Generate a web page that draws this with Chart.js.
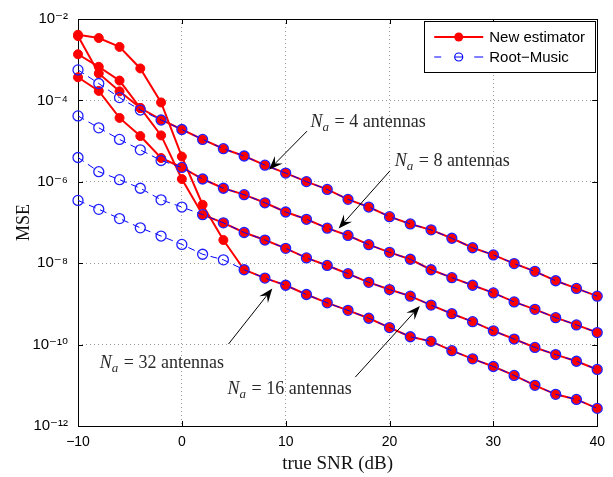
<!DOCTYPE html>
<html>
<head>
<meta charset="utf-8">
<script src="https://cdn.jsdelivr.net/npm/chart.js@4.4.1/dist/chart.umd.min.js"></script>
<style>
  html, body { margin: 0; padding: 0; background: #fff; }
</style>
</head>
<body>
<canvas id="grafico" width="613" height="477"></canvas>
<script>
// SNR (dB)
const snr = [-10, -8, -6, -4, -2, 0, 2, 4, 6, 8, 10, 12, 14, 16, 18, 20, 22, 24, 26, 28, 30, 32, 34, 36, 38, 40];

// Root-Music
const rootMusic4 = [5.6e-4, 2.6e-4, 1.17e-4, 5.8e-5, 3.3e-5, 1.93e-5, 1.1e-5, 6.5e-6, 4.3e-6, 2.56e-6, 1.64e-6, 1.01e-6, 6.5e-7, 3.7e-7, 2.4e-7, 1.39e-7, 9.2e-8, 6.6e-8, 4.1e-8, 2.4e-8, 1.6e-8, 9.8e-9, 6.3e-9, 3.7e-9, 2.4e-9, 1.55e-9];
const rootMusic8 = [4.15e-5, 2.12e-5, 1.1e-5, 6.1e-6, 3.34e-6, 2.25e-6, 1.17e-6, 6.95e-7, 4.83e-7, 3.05e-7, 1.81e-7, 1.2e-7, 7.26e-8, 4.8e-8, 2.85e-8, 1.85e-8, 1.25e-8, 6.9e-9, 4.41e-9, 2.87e-9, 1.86e-9, 1.12e-9, 7.35e-10, 4.59e-10, 3.05e-10, 1.98e-10];
const rootMusic16 = [3.95e-6, 1.77e-6, 1.13e-6, 6.95e-7, 3.61e-7, 2.4e-7, 1.56e-7, 9.8e-8, 5.68e-8, 3.71e-8, 2.32e-8, 1.35e-8, 8.8e-9, 5.52e-9, 3.39e-9, 2.25e-9, 1.55e-9, 9.35e-10, 5.74e-10, 3.66e-10, 2.18e-10, 1.37e-10, 8.5e-11, 5.68e-11, 3.9e-11, 2.45e-11];
const rootMusic32 = [3.49e-7, 2.11e-7, 1.25e-7, 7.4e-8, 4.65e-8, 2.9e-8, 1.66e-8, 1.21e-8, 6.9e-9, 4.31e-9, 2.87e-9, 1.7e-9, 1.06e-9, 6.95e-10, 4.44e-10, 2.62e-10, 1.56e-10, 1.2e-10, 7.1e-11, 4.47e-11, 2.9e-11, 1.75e-11, 1.0e-11, 6.0e-12, 4.49e-12, 2.71e-12];

// New estimator
const novo4 = [1.36e-3, 6.7e-4, 3.07e-4, 6.5e-5, 3.35e-5, 1.93e-5, 1.1e-5, 6.5e-6, 4.3e-6, 2.56e-6, 1.64e-6, 1.01e-6, 6.5e-7, 3.7e-7, 2.4e-7, 1.39e-7, 9.2e-8, 6.6e-8, 4.1e-8, 2.4e-8, 1.6e-8, 9.8e-9, 6.3e-9, 3.7e-9, 2.4e-9, 1.55e-9];
const novo8 = [3.7e-4, 1.71e-4, 3.71e-5, 1.33e-5, 3.84e-6, 2.25e-6, 1.17e-6, 6.95e-7, 4.83e-7, 3.05e-7, 1.81e-7, 1.2e-7, 7.26e-8, 4.8e-8, 2.85e-8, 1.85e-8, 1.25e-8, 6.9e-9, 4.41e-9, 2.87e-9, 1.86e-9, 1.12e-9, 7.35e-10, 4.59e-10, 3.05e-10, 1.98e-10];
const novo16 = [3.8e-3, 4.6e-4, 1.67e-4, 6.5e-5, 1.38e-5, 1.17e-6, 1.56e-7, 9.8e-8, 5.68e-8, 3.71e-8, 2.32e-8, 1.35e-8, 8.8e-9, 5.52e-9, 3.39e-9, 2.25e-9, 1.55e-9, 9.35e-10, 5.74e-10, 3.66e-10, 2.18e-10, 1.37e-10, 8.5e-11, 5.68e-11, 3.9e-11, 2.45e-11];
const novo32 = [4.1e-3, 3.41e-3, 2.06e-3, 6.1e-4, 8.9e-5, 4.17e-6, 2.73e-7, 3.71e-8, 6.9e-9, 4.31e-9, 2.87e-9, 1.7e-9, 1.06e-9, 6.95e-10, 4.44e-10, 2.62e-10, 1.56e-10, 1.2e-10, 7.1e-11, 4.47e-11, 2.9e-11, 1.75e-11, 1.0e-11, 6.0e-12, 4.49e-12, 2.71e-12];

// eixos
const ticksX = [-10, 0, 10, 20, 30, 40];
const ticksY = [1e-12, 1e-10, 1e-8, 1e-6, 1e-4, 1e-2];

// anotações: texto (x, y) e seta (de -> ponta), em unidades do gráfico
const anotacoes = [
  { n: '4',  tx: 12.4, ty: 2.2e-5,  de: [12.06, 1.76e-5], ponta: [8.39, 1.98e-6] },
  { n: '8',  tx: 20.5, ty: 2.5e-6,  de: [20.05, 1.87e-6], ponta: [15.1, 7.1e-8] },
  { n: '32', tx: -7.9, ty: 2.6e-11, de: [4.49, 1.03e-10], ponta: [8.71, 2.38e-9] },
  { n: '16', tx: 4.4,  ty: 6.2e-12, de: [16.7, 1.59e-11], ponta: [22.92, 8.85e-10] }
];

const SUP = { '-': '⁻', '0': '⁰', '1': '¹', '2': '²', '3': '³', '4': '⁴', '5': '⁵', '6': '⁶', '7': '⁷', '8': '⁸', '9': '⁹' };
function potencia(v) {
  const e = String(Math.round(Math.log10(v)));
  return '10' + e.split('').map(c => SUP[c]).join('');
}

function pontos(valores) {
  return snr.map((s, i) => ({ x: s, y: valores[i] }));
}

function serieNova(valores) {
  return {
    label: 'New estimator',
    data: pontos(valores),
    borderColor: '#ff0000',
    backgroundColor: '#ff0000',
    borderWidth: 2,
    pointRadius: 4.5,
    pointBackgroundColor: '#ff0000',
    pointBorderColor: '#ff0000',
    pointBorderWidth: 1,
    order: 2,
    clip: 8
  };
}

function serieRoot(valores) {
  return {
    label: 'Root−Music',
    data: pontos(valores),
    borderColor: '#0000ff',
    borderWidth: 1,
    borderDash: [7, 5],
    pointRadius: 5,
    pointBackgroundColor: 'rgba(0,0,0,0)',
    pointBorderColor: '#2020ff',
    pointBorderWidth: 1.3,
    order: 1,
    clip: 8
  };
}

const FONTE_SANS = '"Liberation Sans", "DejaVu Sans", sans-serif';
const FONTE_SERIF = '"Liberation Serif", "DejaVu Serif", serif';

// caixa preta e marcas internas (estilo MATLAB)
const moldura = {
  id: 'moldura',
  beforeDatasetsDraw(chart) {
    const { ctx, chartArea: a, scales } = chart;
    ctx.save();
    ctx.strokeStyle = '#000';
    ctx.lineWidth = 1;
    ctx.beginPath();
    ticksX.forEach(v => {
      const px = Math.round(scales.x.getPixelForValue(v)) + 0.5;
      ctx.moveTo(px, a.bottom); ctx.lineTo(px, a.bottom - 5);
      ctx.moveTo(px, a.top); ctx.lineTo(px, a.top + 5);
    });
    ticksY.forEach(v => {
      const py = Math.round(scales.y.getPixelForValue(v)) + 0.5;
      ctx.moveTo(a.left, py); ctx.lineTo(a.left + 5, py);
      ctx.moveTo(a.right, py); ctx.lineTo(a.right - 5, py);
    });
    ctx.stroke();
    ctx.strokeRect(Math.round(a.left) + 0.5, Math.round(a.top) + 0.5, Math.round(a.right - a.left), Math.round(a.bottom - a.top));
    ctx.restore();
  }
};

function desenhaSeta(ctx, x1, y1, x2, y2) {
  const ang = Math.atan2(y2 - y1, x2 - x1);
  const L = 14, W = 5.5;
  ctx.strokeStyle = '#000';
  ctx.lineWidth = 1;
  ctx.beginPath();
  ctx.moveTo(x1, y1);
  ctx.lineTo(x2 - Math.cos(ang) * L * 0.6, y2 - Math.sin(ang) * L * 0.6);
  ctx.stroke();
  ctx.save();
  ctx.translate(x2, y2);
  ctx.rotate(ang);
  ctx.beginPath();
  ctx.moveTo(0, 0);
  ctx.lineTo(-L, -W);
  ctx.lineTo(-L * 0.62, 0);
  ctx.lineTo(-L, W);
  ctx.closePath();
  ctx.fillStyle = '#000';
  ctx.fill();
  ctx.restore();
}

function desenhaRotulo(ctx, x, y, n) {
  ctx.fillStyle = '#2a2a2a';
  ctx.textAlign = 'left';
  ctx.textBaseline = 'alphabetic';
  ctx.font = 'italic 18px ' + FONTE_SERIF;
  ctx.fillText('N', x, y);
  let cx = x + ctx.measureText('N').width;
  ctx.font = 'italic 13px ' + FONTE_SERIF;
  ctx.fillText('a', cx, y + 4);
  cx += ctx.measureText('a').width;
  ctx.font = '18px ' + FONTE_SERIF;
  ctx.fillText(' = ' + n + ' antennas', cx + 1, y);
}

const rotulos = {
  id: 'rotulos',
  afterDatasetsDraw(chart) {
    const { ctx, scales: { x, y } } = chart;
    ctx.save();
    anotacoes.forEach(an => {
      desenhaRotulo(ctx, x.getPixelForValue(an.tx), y.getPixelForValue(an.ty), an.n);
      desenhaSeta(ctx,
        x.getPixelForValue(an.de[0]), y.getPixelForValue(an.de[1]),
        x.getPixelForValue(an.ponta[0]), y.getPixelForValue(an.ponta[1]));
    });
    ctx.restore();
  }
};

const legenda = {
  id: 'legenda',
  afterDraw(chart) {
    const { ctx, chartArea: a } = chart;
    const x0 = a.right - 173, y0 = a.top + 2, w = 171, h = 51;
    ctx.save();
    ctx.fillStyle = '#fff';
    ctx.fillRect(x0, y0, w, h);
    ctx.strokeStyle = '#000';
    ctx.lineWidth = 1;
    ctx.strokeRect(Math.round(x0) + 0.5, Math.round(y0) + 0.5, w, h);

    const lx = x0 + 10, lw = 49, yy1 = y0 + 16, yy2 = y0 + 36;
    // New estimator
    ctx.strokeStyle = '#ff0000';
    ctx.lineWidth = 2;
    ctx.beginPath(); ctx.moveTo(lx, yy1); ctx.lineTo(lx + lw, yy1); ctx.stroke();
    ctx.fillStyle = '#ff0000';
    ctx.beginPath(); ctx.arc(lx + lw / 2, yy1, 4.5, 0, Math.PI * 2); ctx.fill();
    // Root-Music
    ctx.strokeStyle = '#0000ff';
    ctx.lineWidth = 1.2;
    ctx.beginPath();
    ctx.moveTo(lx, yy2); ctx.lineTo(lx + 7, yy2);
    ctx.moveTo(lx + 21, yy2); ctx.lineTo(lx + 28, yy2);
    ctx.moveTo(lx + 40, yy2); ctx.lineTo(lx + lw, yy2);
    ctx.stroke();
    ctx.beginPath(); ctx.arc(lx + lw / 2, yy2, 4, 0, Math.PI * 2); ctx.stroke();

    ctx.fillStyle = '#000';
    ctx.font = '15px ' + FONTE_SANS;
    ctx.textAlign = 'left';
    ctx.textBaseline = 'middle';
    ctx.fillText('New estimator', lx + lw + 6, yy1 + 1);
    ctx.fillText('Root−Music', lx + lw + 6, yy2 + 1);
    ctx.restore();
  }
};

const ctx = document.getElementById('grafico').getContext('2d');
new Chart(ctx, {
  type: 'line',
  data: {
    datasets: [
      serieNova(novo4), serieNova(novo8), serieNova(novo16), serieNova(novo32),
      serieRoot(rootMusic4), serieRoot(rootMusic8), serieRoot(rootMusic16), serieRoot(rootMusic32)
    ]
  },
  options: {
    responsive: false,
    animation: false,
    devicePixelRatio: 1,
    layout: { padding: { top: 15, right: 13, left: 0, bottom: 0 } },
    elements: { line: { tension: 0 } },
    plugins: { legend: { display: false }, tooltip: { enabled: false } },
    scales: {
      x: {
        type: 'linear',
        min: -10,
        max: 40,
        afterBuildTicks: s => { s.ticks = ticksX.map(v => ({ value: v })); },
        afterFit: s => { s.height = 51; },
        ticks: {
          color: '#000',
          padding: 8,
          maxRotation: 0,
          font: { family: FONTE_SANS, size: 14 },
          callback: v => (v < 0 ? '−' + Math.abs(v) : String(v))
        },
        grid: { color: '#9a9a9a', lineWidth: 1, drawTicks: false },
        border: { display: false, dash: [1, 3] },
        title: {
          display: true,
          text: 'true SNR (dB)',
          color: '#111',
          font: { family: FONTE_SERIF, size: 19 },
          padding: { top: 0, bottom: 2 }
        }
      },
      y: {
        type: 'logarithmic',
        min: 1e-12,
        max: 1e-2,
        afterBuildTicks: s => { s.ticks = ticksY.map(v => ({ value: v })); },
        afterFit: s => { s.width = 78; },
        ticks: {
          color: '#000',
          padding: 10,
          font: { family: FONTE_SANS, size: 15 },
          callback: v => potencia(v)
        },
        grid: { color: '#9a9a9a', lineWidth: 1, drawTicks: false },
        border: { display: false, dash: [1, 3] },
        title: {
          display: true,
          text: 'MSE',
          color: '#111',
          font: { family: FONTE_SERIF, size: 18 },
          padding: { top: 13, bottom: 0 }
        }
      }
    }
  },
  plugins: [moldura, rotulos, legenda]
});
</script>
</body>
</html>
